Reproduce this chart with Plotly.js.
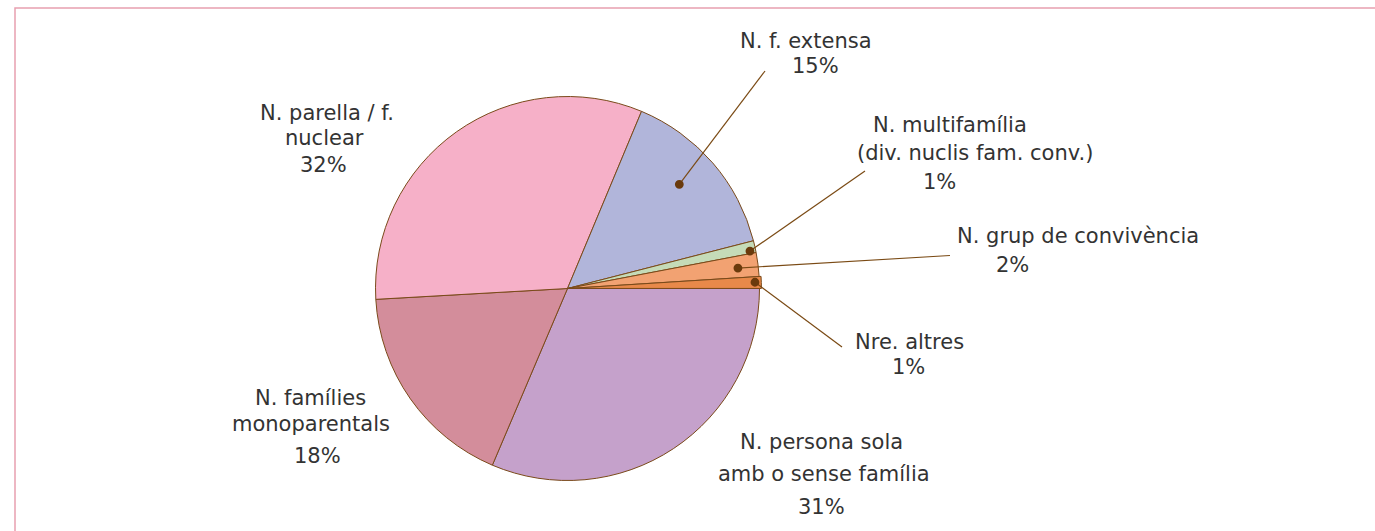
<!DOCTYPE html>
<html>
<head>
<meta charset="utf-8">
<script src="https://cdn.plot.ly/plotly-3.0.1.min.js"></script>
<style>html,body{margin:0;padding:0;background:#fff;}#chart{width:1375px;height:531px;}</style>
</head>
<body>
<div id="chart"></div>
<script>
// ---- data (slice order: counterclockwise from 3 o'clock) ----
const categories = ['Nre. altres', 'N. grup de convivència', 'N. multifamília (div. nuclis fam. conv.)',
  'N. f. extensa', 'N. parella / f. nuclear', 'N. famílies monoparentals', 'N. persona sola amb o sense família'];
const values = [1.0, 2.0, 1.0, 14.7, 32.2, 17.7, 31.4];
const labelLines = [
  ['Nre. altres'],
  ['N. grup de convivència'],
  ['N. multifamília', '(div. nuclis fam. conv.)'],
  ['N. f. extensa'],
  ['N. parella / f.', 'nuclear'],
  ['N. famílies', 'monoparentals'],
  ['N. persona sola', 'amb o sense família']
];

// ---- style / layout ----
const colors = ['#e8894a', '#f2a272', '#c5dbb8', '#b1b5da', '#f6b0c8', '#d38d9b', '#c5a1cb'];
const W = 1375, H = 531;
const cx = 567.5, cy = 288.5, R = 192;
const pullAltres = 0.01;
// text line positions (px centres), last entry is the percentage line
const linePos = [
  [[909.5, 342], [908, 366.5]],
  [[1078, 236], [1013, 265]],
  [[950, 125], [975, 153], [939, 181.5]],
  [[806, 41], [815.5, 66.5]],
  [[326.7, 113], [324, 138.5], [323.5, 165]],
  [[310, 398], [311, 423.5], [317, 456]],
  [[821.7, 441.5], [823.5, 473.5], [821.3, 506.5]]
];
// leader lines: tail position (px) and dot placement within slice (angle fraction, radius fraction)
const leaders = [
  {i: 0, tail: [842, 347], af: 0.53, rf: 0.977},
  {i: 1, tail: [950, 255.5], af: 0.45, rf: 0.894},
  {i: 2, tail: [865, 171], af: 0.22, rf: 0.97},
  {i: 3, tail: [765, 71], af: 0.54, rf: 0.796}
];

const total = values.reduce((a, b) => a + b, 0);
const px = x => x / W;
const py = y => 1 - y / H;
const half = R * (1 + pullAltres);
const rev = arr => arr.slice().reverse();

// drawn clockwise from 3 o'clock in reversed order == counterclockwise in data order
const trace = {
  type: 'pie',
  labels: rev(categories),
  values: rev(values),
  sort: false,
  direction: 'clockwise',
  rotation: 90,
  pull: rev(values.map((v, i) => i === 0 ? pullAltres : 0)),
  marker: {colors: rev(colors), line: {color: '#7a4a1a', width: 1}},
  textinfo: 'none',
  hoverinfo: 'label+percent',
  showlegend: false,
  domain: {x: [px(cx - half), px(cx + half)], y: [py(cy + half), py(cy - half)]}
};

const font = {family: 'DejaVu Sans, sans-serif', size: 21, color: '#333333'};
const annotations = [];
labelLines.forEach((lines, i) => {
  const pct = Math.round(values[i] / total * 100) + '%';
  const all = lines.concat([pct]);
  all.forEach((t, k) => {
    const p = linePos[i][k];
    annotations.push({text: t, x: px(p[0]), y: py(p[1]), xref: 'paper', yref: 'paper',
      xanchor: 'center', yanchor: 'middle', showarrow: false, font: font, borderpad: 0});
  });
});

const shapes = [{
  type: 'rect', xref: 'paper', yref: 'paper', x0: px(15), x1: 1.02, y0: -0.02, y1: py(8),
  line: {color: '#e8a0b0', width: 1.5}, fillcolor: 'rgba(0,0,0,0)', layer: 'below'
}];
const cum = [];
values.reduce((a, v, i) => { cum[i] = a; return a + v; }, 0);
leaders.forEach(l => {
  const ang = (cum[l.i] + l.af * values[l.i]) / total * 2 * Math.PI;
  const tx = cx + l.rf * R * Math.cos(ang);
  const ty = cy - l.rf * R * Math.sin(ang);
  shapes.push({type: 'line', xref: 'paper', yref: 'paper', x0: px(l.tail[0]), y0: py(l.tail[1]),
    x1: px(tx), y1: py(ty), line: {color: '#7a4a14', width: 1.2}});
  const r = 4.4;
  shapes.push({type: 'circle', xref: 'paper', yref: 'paper', x0: px(tx - r), x1: px(tx + r),
    y0: py(ty + r), y1: py(ty - r), fillcolor: '#6a3a0c', line: {color: '#6a3a0c', width: 0}});
});

const layout = {
  width: W, height: H,
  margin: {l: 0, r: 0, t: 0, b: 0},
  paper_bgcolor: '#ffffff',
  showlegend: false,
  annotations: annotations,
  shapes: shapes
};
Plotly.newPlot('chart', [trace], layout, {displayModeBar: false, staticPlot: true});
</script>
</body>
</html>
